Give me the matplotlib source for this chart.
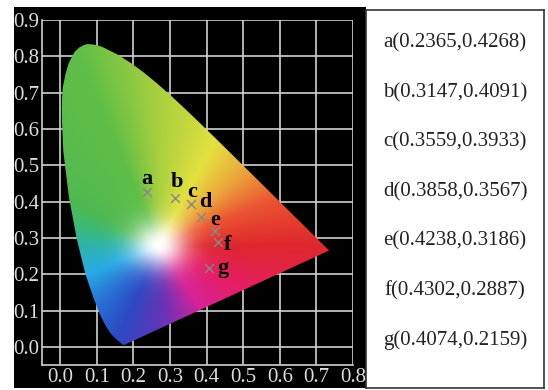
import numpy as np
import matplotlib.pyplot as plt
from matplotlib.patches import Polygon

# CIE 1931 spectral locus (x, y), 380 -> 700 nm (denser near the green tip)
locus_x = [0.1741, 0.1733, 0.1714, 0.1689, 0.1644, 0.1566, 0.1440, 0.1355,
           0.1241, 0.1096, 0.0913, 0.0687, 0.0454, 0.0235, 0.0082, 0.0060,
           0.0045, 0.0039, 0.0046, 0.0068, 0.0139, 0.0230, 0.0389, 0.0525,
           0.0668, 0.0743, 0.0940, 0.1142, 0.1547, 0.1929, 0.2296, 0.2658,
           0.3016, 0.3373, 0.3731, 0.4087, 0.4441, 0.4788, 0.5125, 0.5448,
           0.5752, 0.6029, 0.6270, 0.6658, 0.6915, 0.7079, 0.7190, 0.7260,
           0.7300, 0.7347]
locus_y = [0.0050, 0.0048, 0.0051, 0.0069, 0.0109, 0.0177, 0.0297, 0.0399,
           0.0578, 0.0868, 0.1327, 0.2007, 0.2950, 0.4127, 0.5384, 0.5875,
           0.6230, 0.6548, 0.6850, 0.7140, 0.7502, 0.7810, 0.8120, 0.8248,
           0.8320, 0.8338, 0.8320, 0.8262, 0.8059, 0.7816, 0.7543, 0.7243,
           0.6923, 0.6589, 0.6245, 0.5896, 0.5547, 0.5202, 0.4866, 0.4544,
           0.4242, 0.3965, 0.3725, 0.3340, 0.3083, 0.2920, 0.2809, 0.2740,
           0.2700, 0.2653]

# sample points
names = ["a", "b", "c", "d", "e", "f", "g"]
px = [0.2365, 0.3147, 0.3559, 0.3858, 0.4238, 0.4302, 0.4074]
py = [0.4268, 0.4091, 0.3933, 0.3567, 0.3186, 0.2887, 0.2159]
label_off = [(0, 13), (1, 16), (2, 12), (4, 15), (0, 11), (10, -3), (14, 0)]

x_ticks = [0.0, 0.1, 0.2, 0.3, 0.4, 0.5, 0.6, 0.7, 0.8]
y_ticks = [0.0, 0.1, 0.2, 0.3, 0.4, 0.5, 0.6, 0.7, 0.8, 0.9]

# colour wheel used to paint the diagram (angle around the white spot)
wheel_deg = [0, 25, 45, 65, 90, 110, 150, 165, 180, 205, 230, 250, 275, 300,
             330, 360]
wheel_rgb = [(222, 40, 45), (235, 85, 50), (235, 165, 60), (228, 225, 62),
             (170, 208, 62), (95, 190, 70), (78, 185, 82), (60, 185, 120),
             (45, 180, 170), (40, 170, 228), (40, 110, 210), (45, 72, 195),
             (110, 50, 180), (215, 35, 150), (230, 30, 100), (222, 40, 45)]
white_x, white_y = 0.27, 0.28

W, H = 548, 390
plt.rcParams['font.family'] = ['Liberation Serif', 'DejaVu Serif']
fig = plt.figure(figsize=(W / 100, H / 100), dpi=100, facecolor='white')


def box(l, t, r, b):
    return [l / W, 1 - b / H, (r - l) / W, (b - t) / H]


bg = fig.add_axes(box(14, 7, 366, 388))
bg.set_facecolor('black')
bg.set_xticks([])
bg.set_yticks([])
for s in bg.spines.values():
    s.set_visible(False)

ax = fig.add_axes(box(42, 20, 353, 365))
ax.set_facecolor('black')
ax.set_xlim(-0.05, 0.8)
ax.set_ylim(-0.05, 0.9)

# paint the horseshoe
gx, gy = np.meshgrid(np.linspace(-0.05, 0.8, 500), np.linspace(-0.05, 0.9, 500))
dx, dy = gx - white_x, (gy - white_y) * 1.15
ang = np.degrees(np.arctan2(dy, dx)) % 360
dist = np.hypot(dx, dy)
wr = np.array(wheel_rgb) / 255.0
col = np.stack([np.interp(ang, wheel_deg, wr[:, k]) for k in range(3)], -1)
wt = np.exp(-(dist / 0.075) ** 2)[..., None]
img = wt * 1.0 + (1 - wt) * col
im = ax.imshow(img, extent=(-0.05, 0.8, -0.05, 0.9), origin='lower',
               interpolation='bilinear', aspect='auto', zorder=2)
poly = Polygon(np.column_stack([locus_x, locus_y]), closed=True,
               transform=ax.transData, facecolor='none', edgecolor='none')
ax.add_patch(poly)
im.set_clip_path(poly)

ax.set_xticks(x_ticks)
ax.set_yticks(y_ticks)
ax.set_xticklabels([f"{v:.1f}" for v in x_ticks])
ax.set_yticklabels([f"{v:.1f}" for v in y_ticks])
ax.tick_params(length=0, labelsize=15, colors='#dddddd', pad=2)
ax.grid(color='#d0d0d0', linewidth=1.2, zorder=1)
ax.set_axisbelow(True)
for side in ['top', 'right']:
    ax.spines[side].set_visible(False)
for side in ['left', 'bottom']:
    ax.spines[side].set_color('#d0d0d0')
    ax.spines[side].set_linewidth(1.2)

ax.scatter(px, py, marker='x', s=40, color='#888888', linewidths=1.0, zorder=4)
for n, x, y, off in zip(names, px, py, label_off):
    ax.annotate(n, (x, y), xytext=off, textcoords='offset pixels',
                ha='center', va='center',
                fontsize=16, fontweight='bold', color='black', zorder=5)

# right side legend panel
panel = fig.add_axes(box(366, 10, 544, 388))
panel.set_facecolor('white')
panel.set_xticks([])
panel.set_yticks([])
for s in panel.spines.values():
    s.set_color('#333333')
    s.set_linewidth(1.2)
for i, (n, x, y) in enumerate(zip(names, px, py)):
    panel.text(0.5, 1 - (33 + i * 49.5) / 378, f"{n}({x:.4f},{y:.4f})",
               transform=panel.transAxes, ha='center', va='center',
               fontsize=15, color='#222222')

fig.savefig("out.png", dpi=100, facecolor='white')
